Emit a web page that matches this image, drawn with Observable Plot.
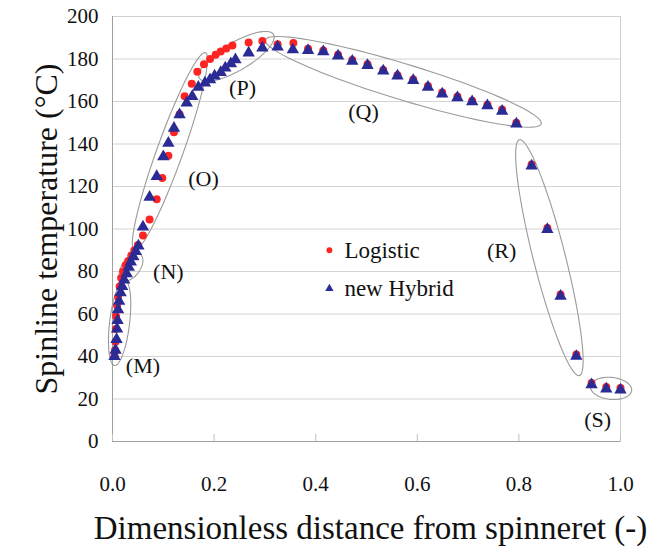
<!DOCTYPE html>
<html><head><meta charset="utf-8">
<script src="https://cdn.jsdelivr.net/npm/d3@7"></script>
<script src="https://cdn.jsdelivr.net/npm/@observablehq/plot@0.6"></script>
<style>body{margin:0;background:#fff;} svg text{font-family:"Liberation Serif","DejaVu Serif",serif;}</style>
</head><body><div id="chart"></div>
<script>
// ---- data ----
const xTicks = [0, 0.2, 0.4, 0.6, 0.8, 1.0];
const yTicks = [0, 20, 40, 60, 80, 100, 120, 140, 160, 180, 200];

const logisticX = [0.004,0.005,0.006,0.0065,0.007,0.009,0.011,0.014,0.017,0.021,0.026,0.031,0.037,0.043,0.050,0.060,0.073,0.087,0.098,0.110,0.121,0.132,0.142,0.156,0.167,0.180,0.192,0.203,0.213,0.224,0.236,0.268,0.295,0.325,0.356,0.385,0.415,0.444,0.472,0.502,0.533,0.561,0.592,0.621,0.649,0.679,0.708,0.738,0.767,0.795,0.825,0.856,0.882,0.913,0.943,0.972,1.0];
const logisticT = [40.5,43,47,53,59,64,68,73,77,80,83,85,87.5,90,92.5,97,104.5,114,124,134.5,145.5,154,162.5,168.4,174,177.5,180,182,183.5,185,186.3,187.8,188.5,187,187.5,184.8,184,182,179.5,177.5,174.8,172.3,170.3,167.3,164.2,162.3,160.3,158.5,156.2,150,130.3,100.5,69.2,41,27.5,25.6,25.2];

const hybridX = [0.004,0.006,0.008,0.009,0.010,0.011,0.013,0.016,0.019,0.023,0.028,0.032,0.036,0.041,0.046,0.051,0.060,0.073,0.087,0.100,0.110,0.121,0.132,0.146,0.157,0.169,0.182,0.192,0.201,0.213,0.222,0.233,0.242,0.268,0.295,0.325,0.355,0.385,0.415,0.444,0.472,0.502,0.533,0.561,0.592,0.621,0.649,0.679,0.708,0.738,0.767,0.795,0.825,0.856,0.882,0.913,0.943,0.972,1.0];
const hybridT = [40,43,48,53,57,62,66,70,73,76,79,82,84.5,87,89.5,92,101,115,124.7,134,140.4,147.5,153.8,159.3,162.4,166.8,168.7,170.3,172,173.7,175.8,177.8,179.7,182.9,185.2,185.7,184.4,184,183.5,181.5,179,177,174.4,172,169.9,166.8,163.6,161.8,159.9,158,155.5,149.5,129.7,99.8,68.4,40.1,26.7,24.8,24.3];

const seriesNames = ["Logistic", "new Hybrid"];

// region annotations: label, label position, ellipse end points (data units)
const regionLabels = ["(M)", "(N)", "(O)", "(P)", "(Q)", "(R)", "(S)"];
const regionLabelX = [0.060, 0.110, 0.179, 0.256, 0.494, 0.766, 0.955];
const regionLabelT = [35.4, 80, 123.6, 166.5, 155, 89.6, 10];
const ellipseX1 = [0.004, 0.018, 0.043, 0.171, 0.301, 0.801, 0.941];
const ellipseT1 = [35.8, 76, 90, 171, 189, 142, 26];
const ellipseX2 = [0.024, 0.055, 0.183, 0.317, 0.844, 0.919, 1.022];
const ellipseT2 = [76, 88, 183, 191.5, 149.5, 31, 24];

// ---- layout / style ----
const W = 650, H = 557;
const M = {top: 16, right: 30, bottom: 116, left: 112};
const ellipseHalfWidth = [10, 9, 13, 14, 18, 16, 11];
const RED = "#ff2424", BLUE = "#2b2b95";
const SERIF = "Liberation Serif";

const kx = (W - M.left - M.right) / 1;
const ky = (H - M.top - M.bottom) / 200;
const toPx = (x, t) => [M.left + x * kx, H - M.bottom - t * ky];
const toData = (px, py) => [(px - M.left) / kx, (H - M.bottom - py) / ky];

const logistic = logisticX.map((x, i) => ({x, t: logisticT[i]}));
const hybrid = hybridX.map((x, i) => ({x, t: hybridT[i]}));

const ellipsePts = [];
regionLabels.forEach((lab, k) => {
  const [x1, y1] = toPx(ellipseX1[k], ellipseT1[k]);
  const [x2, y2] = toPx(ellipseX2[k], ellipseT2[k]);
  const cx = (x1 + x2) / 2, cy = (y1 + y2) / 2;
  const a = Math.hypot(x2 - x1, y2 - y1) / 2, b = ellipseHalfWidth[k];
  const th = Math.atan2(y2 - y1, x2 - x1);
  for (let j = 0; j < 90; j++) {
    const u = (j / 90) * 2 * Math.PI;
    const px = cx + a * Math.cos(th) * Math.cos(u) - b * Math.sin(th) * Math.sin(u);
    const py = cy + a * Math.sin(th) * Math.cos(u) + b * Math.cos(th) * Math.sin(u);
    const [dx, dt] = toData(px, py);
    ellipsePts.push({x: dx, t: dt, k: lab});
  }
});

const regions = regionLabels.map((l, i) => ({l, x: regionLabelX[i], t: regionLabelT[i]}));
const legend = [
  {name: seriesNames[0], x: 0.427, t: 90, sym: "circle", c: RED},
  {name: seriesNames[1], x: 0.427, t: 72, sym: "triangle", c: BLUE}
];

const chart = Plot.plot({
  width: W, height: H,
  marginTop: M.top, marginRight: M.right, marginBottom: M.bottom, marginLeft: M.left,
  style: {fontFamily: SERIF, fontSize: "21px", color: "#111", background: "#fff"},
  x: {domain: [0, 1]},
  y: {domain: [0, 200]},
  marks: [
    Plot.gridY(yTicks.slice(1), {stroke: "#d4d4d4", strokeOpacity: 1}),
    Plot.frame({stroke: "#cfcfcf"}),
    Plot.ruleX([0], {stroke: "#a0a0a0"}),
    Plot.ruleY([0], {stroke: "#a0a0a0"}),
    Plot.ruleX(xTicks, {x: d => d, y1: 0, y2: 3.3, stroke: "#c0c0c0"}),
    Plot.axisX({ticks: xTicks, tickFormat: d3.format(".1f"), tickSize: 0, tickPadding: 35, fontSize: 21, fontFamily: SERIF, label: null}),
    Plot.axisY({ticks: yTicks, tickSize: 0, tickPadding: 14, fontSize: 21, fontFamily: SERIF, label: null}),
    Plot.line(ellipsePts, {x: "x", y: "t", z: "k", curve: "linear-closed", stroke: "#9a9a9a", strokeWidth: 1.1}),
    Plot.dot(logistic, {x: "x", y: "t", r: 4, fill: RED, stroke: null}),
    Plot.dot(hybrid, {x: "x", y: "t", r: 4.6, symbol: "triangle", fill: BLUE, stroke: null}),
    Plot.text(regions, {x: "x", y: "t", text: "l", fontSize: 22, fontFamily: SERIF, fill: "#111"}),
    Plot.dot(legend, {x: "x", y: "t", symbol: "sym", fill: "c", r: d => d.sym === "circle" ? 3.6 : 4}),
    Plot.text(legend, {x: "x", y: "t", text: "name", textAnchor: "start", dx: 15, fontSize: 23, fontFamily: SERIF, fill: "#111"}),
    Plot.text(["Spinline temperature (°C)"], {frameAnchor: "left", textAnchor: "middle", dx: -66, rotate: -90, fontSize: 32, fontFamily: SERIF, fill: "#111"}),
    Plot.text(["Dimensionless distance from spinneret (-)"], {frameAnchor: "bottom", textAnchor: "middle", dx: 4, dy: 97, fontSize: 33, fontFamily: SERIF, fill: "#111"})
  ]
});
document.getElementById("chart").appendChild(chart);
</script></body></html>
